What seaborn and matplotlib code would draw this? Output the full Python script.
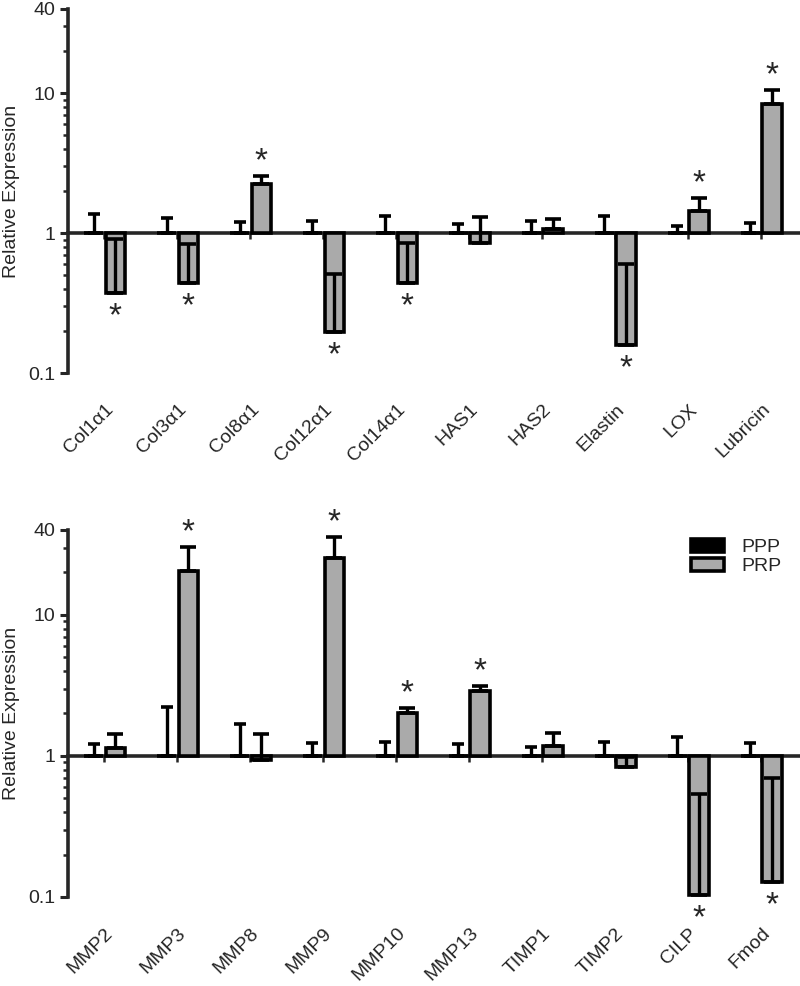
import numpy as np
import pandas as pd
import seaborn as sns
import matplotlib.pyplot as plt

sns.set_style('ticks')
plt.rcParams['font.family'] = ['Liberation Sans', 'DejaVu Sans']
plt.rcParams['font.size'] = 14

groups = ['PPP', 'PRP']
bar_colors = {'PPP': 'black', 'PRP': '#aaaaaa'}

# upper panel: matrix genes
genes_top = ['Col1α1', 'Col3α1', 'Col8α1', 'Col12α1', 'Col14α1',
             'HAS1', 'HAS2', 'Elastin', 'LOX', 'Lubricin']
ppp_top = [1.0, 1.0, 1.0, 1.0, 1.0, 1.0, 1.0, 1.0, 1.0, 1.0]
ppp_top_hi = [1.38, 1.29, 1.20, 1.22, 1.32, 1.17, 1.22, 1.32, 1.13, 1.19]
prp_top = [0.375, 0.437, 2.24, 0.197, 0.437, 0.844, 1.07, 0.158, 1.44, 8.44]
prp_top_hi = [0.91, 0.84, 2.57, 0.51, 0.85, 1.30, 1.27, 0.60, 1.79, 10.6]
sig_top = [1, 1, 1, 1, 1, 0, 0, 1, 1, 1]

# lower panel: proteases and others
genes_bot = ['MMP2', 'MMP3', 'MMP8', 'MMP9', 'MMP10',
             'MMP13', 'TIMP1', 'TIMP2', 'CILP', 'Fmod']
ppp_bot = [1.0, 1.0, 1.0, 1.0, 1.0, 1.0, 1.0, 1.0, 1.0, 1.0]
ppp_bot_hi = [1.21, 2.24, 1.68, 1.24, 1.26, 1.22, 1.15, 1.25, 1.36, 1.24]
prp_bot = [1.13, 20.4, 0.937, 25.2, 2.03, 2.89, 1.18, 0.84, 0.103, 0.127]
prp_bot_hi = [1.43, 30.2, 1.44, 35.6, 2.18, 3.15, 1.46, 0.99, 0.535, 0.695]
sig_bot = [0, 1, 0, 1, 1, 1, 0, 0, 1, 1]

major_ticks = [0.1, 1, 10, 40]
major_labels = ['0.1', '1', '10', '40']
minor_ticks = [0.2, 0.3, 0.4, 0.5, 0.6, 0.7, 0.8, 0.9,
               2, 3, 4, 5, 6, 7, 8, 9, 20, 30]


def draw_panel(ax, genes, ppp, ppp_hi, prp, prp_hi, sig, show_legend=False):
    df = pd.DataFrame({'gene': genes * 2,
                       'group': ['PPP'] * len(genes) + ['PRP'] * len(genes),
                       'value': ppp + prp})
    df['logv'] = np.log10(df['value'])   # bars start at 1 on the log axis
    sns.barplot(data=df, x='gene', y='logv', hue='group', hue_order=groups,
                palette=bar_colors, width=0.6, gap=0.1, edgecolor='black',
                linewidth=2.6, errorbar=None, legend=False, ax=ax)
    bar_sets = list(ax.containers[:2])

    # one sided error bars, always pointing up
    for bars, vals, hi, cap in zip(bar_sets, [ppp, prp], [ppp_hi, prp_hi], [4, 6]):
        xs = [b.get_x() + b.get_width() / 2 for b in bars]
        lo = np.log10(vals)
        up = np.log10(hi) - lo
        ax.errorbar(xs, lo, yerr=[np.zeros_like(up), up], fmt='none',
                    ecolor='black', elinewidth=2.4, capsize=cap, capthick=2.6)

    xs = [b.get_x() + b.get_width() / 2 for b in bar_sets[1]]
    for x, v, h, s in zip(xs, prp, prp_hi, sig):
        if not s:
            continue
        if v >= 1:
            ax.annotate('*', (x, np.log10(h)), xytext=(0, -1), textcoords='offset points',
                        ha='center', va='bottom', fontsize=24)
        else:
            ax.annotate('*', (x, np.log10(v)), xytext=(0, -6), textcoords='offset points',
                        ha='center', va='top', fontsize=24)

    ax.set_ylim(np.log10(0.1), np.log10(40))
    ax.set_xlim(-0.5, len(genes) - 0.47)
    ax.set_yticks(np.log10(major_ticks), labels=major_labels)
    ax.set_yticks(np.log10(minor_ticks), minor=True)
    ax.set_ylabel('Relative Expression', fontsize=14, labelpad=6)
    ax.set_xlabel('')
    sns.despine(ax=ax, bottom=True)
    ax.spines['left'].set_linewidth(2.6)
    ax.tick_params(axis='y', which='major', length=6, width=2.2, labelsize=14, pad=3)
    ax.tick_params(axis='y', which='minor', length=3.6, width=1.8)
    ax.tick_params(axis='x', length=0, pad=20, labelsize=14)
    for lab in ax.get_xticklabels():
        lab.set_rotation(45)
        lab.set_ha('right')
        lab.set_rotation_mode('anchor')

    # baseline at 1 with small category ticks
    base = ax.secondary_xaxis(0, transform=ax.transData)
    base.set_xticks(np.arange(len(genes)))
    base.tick_params(length=4, width=1.8, labelbottom=False)
    base.spines['bottom'].set_linewidth(2.6)

    if show_legend:
        handles = [bars.patches[0] for bars in bar_sets]
        ax.legend(handles, groups, loc='upper right', bbox_to_anchor=(0.975, 0.975),
                  frameon=False, fontsize=14, handlelength=1.7, handleheight=0.62,
                  labelspacing=0.1, handletextpad=0.9, borderaxespad=0, borderpad=0)


fig = plt.figure(figsize=(8, 9.86), dpi=100)
ax1 = fig.add_axes([0.085, 0.6217, 0.915, 0.3692])
ax2 = fig.add_axes([0.085, 0.0903, 0.915, 0.3722])

draw_panel(ax1, genes_top, ppp_top, ppp_top_hi, prp_top, prp_top_hi, sig_top)
draw_panel(ax2, genes_bot, ppp_bot, ppp_bot_hi, prp_bot, prp_bot_hi, sig_bot,
           show_legend=True)

fig.savefig('out.png', dpi=100)
